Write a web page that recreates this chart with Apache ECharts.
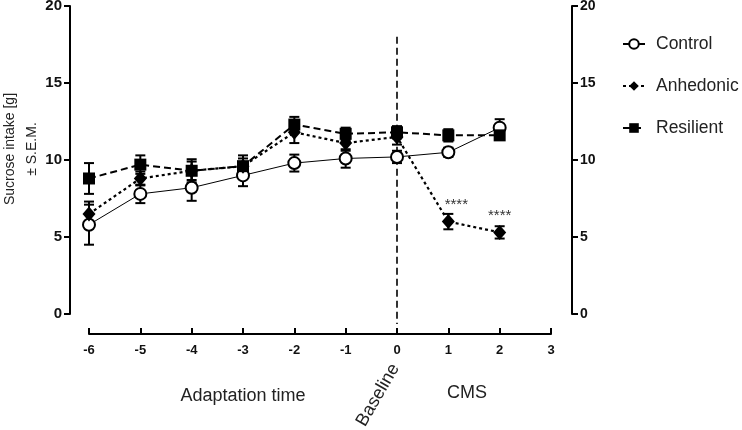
<!DOCTYPE html>
<html>
<head>
<meta charset="utf-8">
<script src="https://cdn.jsdelivr.net/npm/echarts@6/dist/echarts.min.js"></script>
<style>html,body{margin:0;padding:0;background:#fff}#c{width:742px;height:430px}</style>
</head>
<body>
<div id="c"></div>
<script>
const xs = [-6, -5, -4, -3, -2, -1, 0, 1, 2];
const controlMean = [5.8, 7.8, 8.2, 9.0, 9.8, 10.1, 10.2, 10.5, 12.1];
const controlSem = [1.3, 0.6, 0.85, 0.7, 0.55, 0.6, 0.4, 0.3, 0.55];
const anhedonicMean = [6.5, 8.8, 9.3, 9.6, 11.8, 11.1, 11.5, 6.0, 5.3];
const anhedonicSem = [0.8, 0.45, 0.6, 0.5, 0.7, 0.5, 0.5, 0.5, 0.4];
const resilientMean = [8.8, 9.7, 9.3, 9.6, 12.3, 11.7, 11.8, 11.6, 11.6];
const resilientSem = [1.0, 0.6, 0.75, 0.7, 0.5, 0.4, 0.4, 0.4, 0.3];
const seriesNames = ['Control', 'Anhedonic', 'Resilient'];
const xTicks = [-6, -5, -4, -3, -2, -1, 0, 1, 2, 3];
const annotations = [[1, 7.1, '****'], [2, 6.35, '****']];
const baselineLine = [[0, 18, -0.65]];
const phaseLabels = ['Adaptation time', 'Baseline', 'CMS'];

const FONT = '"Liberation Sans", Arial, sans-serif';
const chart = echarts.init(document.getElementById('c'), null, {renderer: 'canvas'});

function pairs(m) { return xs.map((x, i) => [x, m[i]]); }
function errData(m, s) { return xs.map((x, i) => [x, m[i], s[i]]); }

function errSeries(m, s) {
  return {
    type: 'custom',
    data: errData(m, s),
    z: 1,
    silent: true,
    renderItem: function (params, api) {
      const x = api.value(0), y = api.value(1), e = api.value(2);
      const top = api.coord([x, y + e]);
      const bot = api.coord([x, y - e]);
      const w = 5;
      const st = {stroke: '#000', lineWidth: 2};
      return {
        type: 'group',
        children: [
          {type: 'line', shape: {x1: top[0], y1: top[1], x2: bot[0], y2: bot[1]}, style: st},
          {type: 'line', shape: {x1: top[0] - w, y1: top[1], x2: top[0] + w, y2: top[1]}, style: st},
          {type: 'line', shape: {x1: bot[0] - w, y1: bot[1], x2: bot[0] + w, y2: bot[1]}, style: st}
        ]
      };
    }
  };
}

const option = {
  animation: false,
  backgroundColor: '#fff',
  grid: {left: 89, right: 191, top: 6, bottom: 116, containLabel: false, outerBoundsMode: 'none'},
  legend: {
    data: seriesNames,
    orient: 'vertical',
    left: 617,
    top: 30,
    itemWidth: 22,
    itemHeight: 12,
    itemGap: 24,
    textStyle: {fontFamily: FONT, fontSize: 17.5, color: '#222', padding: [0, 0, 0, 6]}
  },
  xAxis: {
    type: 'value',
    min: -6, max: 3, interval: 1,
    offset: 20,
    axisLine: {show: true, onZero: false, lineStyle: {color: '#000', width: 2}},
    axisTick: {show: true, inside: true, length: 6, lineStyle: {color: '#000', width: 2}},
    axisLabel: {fontFamily: FONT, fontSize: 13, fontWeight: 'bold', color: '#111', margin: 10,
      customValues: xTicks},
    splitLine: {show: false}
  },
  yAxis: [
    {
      type: 'value', position: 'left', min: 0, max: 20, interval: 5,
      offset: 19,
      name: 'Sucrose intake [g]\n\u00B1 S.E.M.',
      nameLocation: 'middle', nameRotate: 90, nameGap: 27, nameMoveOverlap: false,
      nameTextStyle: {fontFamily: FONT, fontSize: 14, color: '#222', lineHeight: 22, padding: [0, 0, 0, 22]},
      axisLine: {show: true, onZero: false, lineStyle: {color: '#000', width: 2}},
      axisTick: {show: true, length: 6, lineStyle: {color: '#000', width: 2}},
      axisLabel: {fontFamily: FONT, fontSize: 15, fontWeight: 'bold', color: '#111', margin: 8},
      splitLine: {show: false}
    },
    {
      type: 'value', position: 'right', min: 0, max: 20, interval: 5,
      offset: 21,
      axisLine: {show: true, onZero: false, lineStyle: {color: '#000', width: 2}},
      axisTick: {show: true, length: 6, lineStyle: {color: '#000', width: 2}},
      axisLabel: {fontFamily: FONT, fontSize: 14, fontWeight: 'bold', color: '#111', margin: 8},
      splitLine: {show: false}
    }
  ],
  graphic: [
    {type: 'text', x: 243, y: 396, style: {text: phaseLabels[0], font: '18px ' + FONT, fill: '#222', align: 'center', verticalAlign: 'middle'}},
    {type: 'text', x: 378, y: 395, rotation: Math.PI / 3,
      style: {text: phaseLabels[1], font: '18px ' + FONT, fill: '#222', align: 'center', verticalAlign: 'middle'}},
    {type: 'text', x: 467, y: 393, style: {text: phaseLabels[2], font: '18px ' + FONT, fill: '#222', align: 'center', verticalAlign: 'middle'}}
  ],
  series: [
    {
      type: 'custom',
      data: baselineLine,
      clip: false,
      silent: true,
      z: 0,
      renderItem: function (params, api) {
        const a = api.coord([api.value(0), api.value(1)]);
        const b = api.coord([api.value(0), api.value(2)]);
        return {type: 'line', shape: {x1: a[0], y1: a[1], x2: b[0], y2: b[1]},
          style: {stroke: '#000', lineWidth: 1.6, lineDash: [7, 4]}};
      }
    },
    errSeries(controlMean, controlSem),
    errSeries(anhedonicMean, anhedonicSem),
    errSeries(resilientMean, resilientSem),
    {
      name: seriesNames[0], type: 'line', data: pairs(controlMean), z: 3,
      symbol: 'emptyCircle', symbolSize: 12,
      itemStyle: {color: '#000', borderColor: '#000', borderWidth: 2},
      lineStyle: {color: '#000', width: 1, type: 'solid'}
    },
    {
      name: seriesNames[1], type: 'line', data: pairs(anhedonicMean), z: 4,
      symbol: 'diamond', symbolSize: [13, 15],
      itemStyle: {color: '#000'},
      lineStyle: {color: '#000', width: 2.2, type: [3, 3]}
    },
    {
      name: seriesNames[2], type: 'line', data: pairs(resilientMean), z: 5,
      symbol: 'rect', symbolSize: 12,
      itemStyle: {color: '#000'},
      lineStyle: {color: '#000', width: 2, type: [7, 4]}
    },
    {
      type: 'custom',
      data: annotations,
      silent: true,
      z: 6,
      renderItem: function (params, api) {
        const p = api.coord([api.value(0), api.value(1)]);
        const dx = params.dataIndex === 0 ? 8 : 0;
        return {type: 'text', x: p[0] + dx, y: p[1],
          style: {text: annotations[params.dataIndex][2], font: '15px ' + FONT, fill: '#333',
            align: 'center', verticalAlign: 'middle'}};
      }
    }
  ]
};
chart.setOption(option);
</script>
</body>
</html>
